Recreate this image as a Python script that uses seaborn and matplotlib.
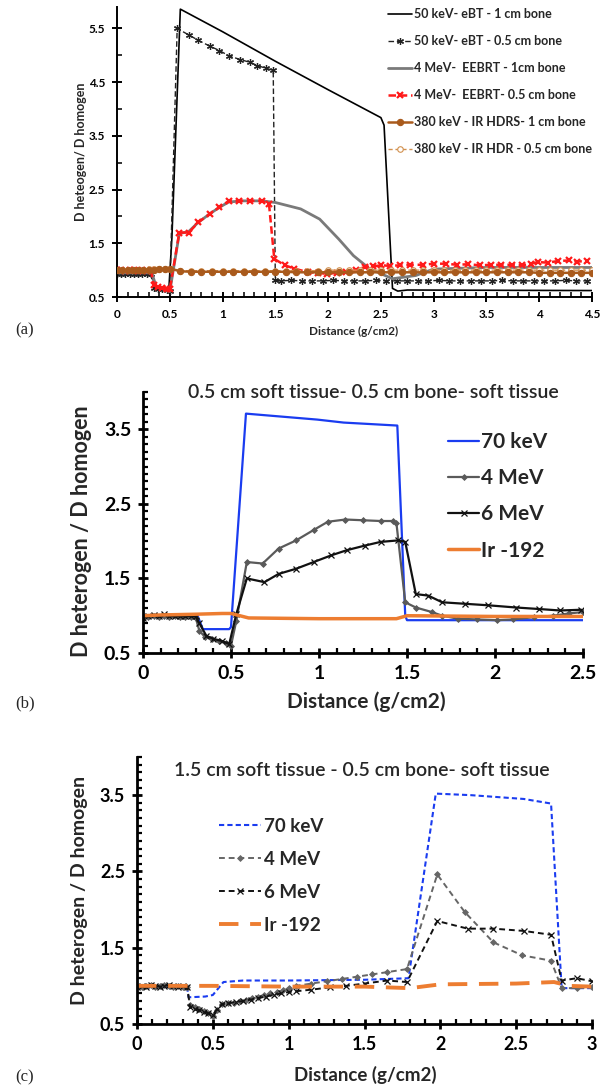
import matplotlib
matplotlib.use("Agg")
import matplotlib.pyplot as plt
import seaborn as sns
from matplotlib.ticker import MultipleLocator, FixedLocator, FuncFormatter

# ---------------- panel (a) data ----------------
a_x_ebt1 = [0, 0.33, 0.36, 0.49, 0.52, 0.6, 1.0, 1.5, 2.0, 2.5, 2.53, 2.61, 2.66, 2.75, 4.5]
a_y_ebt1 = [0.95, 0.95, 0.66, 0.6, 1.6, 5.86, 5.44, 4.89, 4.36, 3.84, 3.7, 0.66, 0.61, 0.63, 0.62]

a_x_ebt05 = [0, 0.04, 0.08, 0.12, 0.16, 0.2, 0.24, 0.28, 0.32, 0.35, 0.39, 0.43, 0.47, 0.5,
             0.57, 0.68, 0.77, 0.88, 0.97, 1.06, 1.17, 1.26, 1.33, 1.41, 1.48,
             1.5, 1.55, 1.65, 1.75, 1.85, 1.95, 2.05, 2.15, 2.25, 2.35, 2.45, 2.55, 2.65, 2.75,
             2.85, 2.95, 3.05, 3.15, 3.25, 3.35, 3.45, 3.55, 3.65, 3.75, 3.85, 3.95, 4.05,
             4.15, 4.25, 4.35, 4.45]
a_y_ebt05 = [0.93, 0.93, 0.92, 0.93, 0.92, 0.93, 0.92, 0.92, 0.92, 0.66, 0.64, 0.65, 0.63, 0.62,
             5.5, 5.38, 5.28, 5.17, 5.09, 4.99, 4.92, 4.87, 4.81, 4.76, 4.72,
             0.81, 0.8, 0.81, 0.8, 0.8, 0.8, 0.81, 0.8, 0.8, 0.8, 0.81, 0.8, 0.8, 0.8,
             0.8, 0.8, 0.81, 0.8, 0.8, 0.8, 0.8, 0.8, 0.81, 0.8, 0.8, 0.8, 0.8,
             0.8, 0.81, 0.8, 0.8]

a_x_eebrt1 = [0, 0.33, 0.37, 0.5, 0.55, 0.59, 0.68, 0.77, 0.88, 0.97, 1.06, 1.2, 1.37, 1.5,
              1.74, 1.92, 2.1, 2.24, 2.39, 2.54, 2.61, 2.83, 3.0, 3.5, 4.0, 4.5]
a_y_eebrt1 = [0.95, 0.95, 0.7, 0.6, 1.2, 1.68, 1.72, 1.89, 2.05, 2.17, 2.27, 2.29, 2.29, 2.26,
              2.14, 1.95, 1.58, 1.27, 1.03, 0.9, 0.84, 0.9, 1.02, 1.05, 1.05, 1.05]

a_x_eebrt05 = [0, 0.04, 0.08, 0.12, 0.16, 0.2, 0.24, 0.28, 0.32, 0.35, 0.39, 0.43, 0.47, 0.5,
               0.59, 0.68, 0.77, 0.88, 0.97, 1.06, 1.16, 1.26, 1.37, 1.44, 1.49, 1.59, 1.68,
               1.81, 1.9, 1.99, 2.08, 2.17, 2.26, 2.35, 2.43, 2.5, 2.59, 2.68, 2.78, 2.9, 3.0,
               3.12, 3.22, 3.33, 3.44, 3.54, 3.64, 3.74, 3.84, 3.92, 3.99, 4.08, 4.18, 4.28,
               4.36, 4.45]
a_y_eebrt05 = [1.0, 1.0, 0.99, 1.0, 1.0, 0.99, 1.0, 0.99, 1.0, 0.72, 0.68, 0.66, 0.65, 0.64,
               1.7, 1.7, 1.89, 2.05, 2.17, 2.29, 2.29, 2.29, 2.29, 2.23, 1.21, 1.09, 1.03,
               0.96, 0.95, 0.93, 0.95, 0.96, 1.0, 1.06, 1.07, 1.09, 1.08, 1.09, 1.1, 1.1, 1.12,
               1.12, 1.1, 1.11, 1.09, 1.1, 1.1, 1.1, 1.09, 1.12, 1.15, 1.14, 1.17, 1.18,
               1.16, 1.17]

a_x_ir = [0, 0.05, 0.1, 0.15, 0.2, 0.25, 0.3, 0.35, 0.4, 0.45, 0.5,
          0.6, 0.7, 0.8, 0.9, 1.0, 1.1, 1.2, 1.3, 1.4, 1.5, 1.6, 1.7, 1.8, 1.9, 2.0,
          2.1, 2.2, 2.3, 2.4, 2.5, 2.6, 2.7, 2.8, 2.9, 3.0, 3.1, 3.2, 3.3, 3.4, 3.5,
          3.6, 3.7, 3.8, 3.9, 4.0, 4.1, 4.2, 4.3, 4.4, 4.5]
a_y_ir1 = [1.0, 1.0, 1.0, 1.0, 1.01, 1.01, 1.01, 1.01, 1.02, 1.02, 1.03,
           0.98, 0.97, 0.97, 0.97, 0.97, 0.97, 0.97, 0.97, 0.97, 0.97, 0.97, 0.96, 0.96, 0.96, 0.96,
           0.96, 0.96, 0.96, 0.96, 0.96, 0.96, 0.96, 0.96, 0.96, 0.96, 0.96, 0.96, 0.96, 0.96, 0.96,
           0.96, 0.96, 0.96, 0.96, 0.95, 0.95, 0.95, 0.95, 0.95, 0.95]
a_y_ir05 = [1.01, 1.0, 1.01, 1.0, 1.01, 1.01, 1.02, 1.02, 1.02, 1.03, 1.03,
            0.99, 0.99, 0.99, 0.99, 0.99, 0.99, 0.99, 0.99, 0.99, 0.99, 0.99, 0.99, 0.99, 0.99, 1.0,
            1.0, 1.0, 1.0, 1.0, 1.0, 1.0, 1.0, 1.0, 1.0, 1.0, 1.0, 1.0, 1.0, 1.0, 1.0,
            1.0, 1.0, 1.0, 1.0, 1.0, 1.0, 1.0, 1.0, 1.0, 1.0]

a_labels = ["50 keV- eBT - 1 cm bone", "50 keV- eBT - 0.5 cm bone", "4 MeV-  EEBRT - 1cm bone",
            "4 MeV-  EEBRT- 0.5 cm bone", "380 keV - IR HDRS- 1 cm bone", "380 keV - IR HDR - 0.5 cm bone"]

# ---------------- panel (b) data ----------------
b_x_70 = [0, 0.31, 0.34, 0.49, 0.5, 0.585, 0.99, 1.14, 1.445, 1.49, 1.5, 2.5]
b_y_70 = [1.0, 1.0, 0.82, 0.82, 0.85, 3.71, 3.63, 3.59, 3.55, 1.0, 0.94, 0.94]

b_x_4 = [0, 0.03, 0.06, 0.09, 0.12, 0.15, 0.18, 0.21, 0.24, 0.27, 0.3, 0.32, 0.35, 0.39, 0.43,
         0.47, 0.5, 0.53, 0.59, 0.68, 0.77, 0.87, 0.97, 1.05, 1.15, 1.25, 1.35, 1.42, 1.44, 1.49,
         1.55, 1.64, 1.7, 1.79, 1.9, 2.01, 2.1, 2.22, 2.33, 2.42, 2.5]
b_y_4 = [0.97, 0.98, 0.99, 0.98, 0.99, 0.98, 0.99, 0.98, 0.98, 0.98, 0.97, 0.8, 0.72, 0.69, 0.66,
         0.63, 0.6, 0.93, 1.72, 1.7, 1.9, 2.01, 2.15, 2.26, 2.29, 2.28, 2.27, 2.27, 2.24, 1.18,
         1.11, 1.05, 1.0, 0.96, 0.95, 0.94, 0.95, 0.98, 1.0, 1.03, 1.05]

b_x_6 = [0, 0.03, 0.06, 0.09, 0.12, 0.15, 0.18, 0.21, 0.24, 0.27, 0.3, 0.32, 0.36, 0.4, 0.45,
         0.49, 0.53, 0.59, 0.69, 0.77, 0.87, 0.97, 1.07, 1.16, 1.26, 1.35, 1.45, 1.49, 1.55, 1.62,
         1.7, 1.83, 1.96, 2.12, 2.25, 2.37, 2.49]
b_y_6 = [0.97, 1.0, 1.01, 0.99, 1.02, 1.0, 0.99, 1.0, 0.99, 1.0, 0.99, 0.9, 0.73, 0.69, 0.66,
         0.62, 1.02, 1.5, 1.45, 1.56, 1.63, 1.72, 1.81, 1.88, 1.94, 1.99, 2.01, 1.99, 1.29, 1.27,
         1.18, 1.16, 1.14, 1.11, 1.09, 1.07, 1.08]

b_x_ir = [0, 0.1, 0.3, 0.45, 0.5, 0.55, 0.6, 1.0, 1.4, 1.44, 1.5, 2.0, 2.5]
b_y_ir = [1.0, 1.01, 1.02, 1.03, 1.03, 1.0, 0.97, 0.96, 0.96, 0.96, 1.0, 0.99, 0.99]

# ---------------- panel (c) data ----------------
c_x_70 = [0, 0.33, 0.34, 0.45, 0.5, 0.57, 0.7, 1.0, 1.5, 1.79, 1.97, 2.2, 2.55, 2.73, 2.8, 3.0]
c_y_70 = [0.98, 0.99, 0.85, 0.86, 0.88, 1.05, 1.07, 1.07, 1.08, 1.1, 3.52, 3.5, 3.45, 3.39, 0.97, 0.97]

c_x_4 = [0, 0.03, 0.06, 0.09, 0.12, 0.15, 0.18, 0.21, 0.24, 0.27, 0.3, 0.33, 0.35, 0.38, 0.41,
         0.44, 0.47, 0.5, 0.53, 0.56, 0.6, 0.64, 0.68, 0.72, 0.76, 0.8, 0.84, 0.88, 0.92, 0.96,
         1.0, 1.05, 1.15, 1.25, 1.35, 1.45, 1.55, 1.65, 1.78, 1.98, 2.16, 2.35, 2.54, 2.73, 2.8,
         2.9, 3.0]
c_y_4 = [0.98, 0.99, 1.0, 1.01, 0.99, 1.0, 1.01, 1.0, 0.99, 1.0, 0.99, 0.98, 0.75, 0.72, 0.7,
         0.67, 0.64, 0.6, 0.68, 0.76, 0.77, 0.78, 0.8, 0.82, 0.84, 0.86, 0.88, 0.9, 0.92, 0.94,
         0.97, 1.0, 1.03, 1.06, 1.09, 1.12, 1.15, 1.18, 1.22, 2.46, 1.97, 1.57, 1.4, 1.33, 0.97,
         0.97, 0.98]

c_x_6 = [0, 0.03, 0.06, 0.09, 0.12, 0.15, 0.18, 0.21, 0.24, 0.27, 0.3, 0.33, 0.35, 0.38, 0.41,
         0.44, 0.47, 0.5, 0.53, 0.56, 0.6, 0.65, 0.7, 0.75, 0.8, 0.85, 0.9, 0.95, 1.0, 1.05,
         1.15, 1.27, 1.38, 1.5, 1.65, 1.78, 1.98, 2.18, 2.35, 2.55, 2.73, 2.8, 2.9, 3.0]
c_y_6 = [0.99, 1.0, 0.99, 1.01, 1.0, 0.99, 1.0, 1.01, 1.0, 0.99, 1.0, 0.99, 0.72, 0.7, 0.68,
         0.66, 0.64, 0.62, 0.7, 0.76, 0.77, 0.79, 0.8, 0.82, 0.84, 0.86, 0.88, 0.9, 0.92, 0.93,
         0.95, 0.98, 1.0, 1.03, 1.07, 1.05, 1.85, 1.75, 1.75, 1.72, 1.67, 1.07, 1.1, 1.06]

c_x_ir = [0, 0.5, 1.0, 1.5, 1.8, 2.0, 2.5, 2.75, 2.85, 3.0]
c_y_ir = [1.0, 1.0, 0.99, 0.99, 0.97, 1.02, 1.03, 1.05, 1.0, 0.99]

bc_labels = ["70 keV", "4 MeV", "6 MeV", "Ir -192"]

sns.set_theme(style="ticks")
plt.rcParams['font.family'] = ['Lato', 'DejaVu Sans']

W, H = 604, 1088
fig = plt.figure(figsize=(W / 100, H / 100), dpi=100)


def box(l, r, b, t):
    return [l / W, 1 - b / H, (r - l) / W, (b - t) / H]


def draw(ax, x, y, color, label, **kw):
    kw.setdefault("mec", color)
    sns.lineplot(x=x, y=y, ax=ax, color=color, label=label, estimator=None,
                 sort=False, **kw)


def style_axes(ax, xmax, ymax, ymajor, yminor, fs, lw):
    ax.set_xlim(0, xmax)
    ax.set_ylim(0.5, ymax)
    ax.xaxis.set_major_locator(MultipleLocator(0.5))
    ax.xaxis.set_minor_locator(MultipleLocator(0.1))
    ax.yaxis.set_major_locator(FixedLocator(ymajor))
    ax.yaxis.set_minor_locator(FixedLocator(yminor))
    ax.xaxis.set_major_formatter(FuncFormatter(lambda v, p: "%g" % v))
    ax.yaxis.set_major_formatter(FuncFormatter(lambda v, p: "%g" % v))
    for s in ["top", "right"]:
        ax.spines[s].set_visible(False)
    for s in ["left", "bottom"]:
        ax.spines[s].set_linewidth(lw)
        ax.spines[s].set_color("black")
    ax.tick_params(which="major", direction="inout", length=7, width=lw, colors="black",
                   labelsize=fs, pad=5)
    ax.tick_params(which="minor", direction="in", length=3.5, width=lw * 0.8, colors="black")
    for t in ax.get_xticklabels() + ax.get_yticklabels():
        t.set_fontweight("bold")
    ax.set_xlabel("")
    ax.set_ylabel("")
    ax.patch.set_alpha(0)


# ---------------- (a) ----------------
ax_a = fig.add_axes(box(117, 592, 297, 7))
draw(ax_a, a_x_ebt1, a_y_ebt1, "black", a_labels[0], linewidth=1.2)
draw(ax_a, a_x_ebt05, a_y_ebt05, "#222222", a_labels[1], linewidth=1.0, linestyle=(0, (4, 2)),
     marker=(6, 2, 0), markersize=5, mew=0.9)
draw(ax_a, a_x_eebrt1, a_y_eebrt1, "#7a7a7a", a_labels[2], linewidth=2.0)
draw(ax_a, a_x_eebrt05, a_y_eebrt05, "#ff1a1a", a_labels[3], linewidth=1.8, linestyle=(0, (3, 1.5)),
     marker="x", markersize=5, mew=1.6)
draw(ax_a, a_x_ir, a_y_ir1, "#a95a1c", a_labels[4], linewidth=1.8, marker="o", markersize=4.5,
     mew=0.8, zorder=6)
draw(ax_a, a_x_ir, a_y_ir05, "#d2914f", a_labels[5], linewidth=1.0, linestyle=(0, (3, 2)),
     marker="o", markersize=4, mew=0.8, mfc="white", zorder=5)
style_axes(ax_a, 4.5, 5.9, [0.5, 1.5, 2.5, 3.5, 4.5, 5.5], [1, 2, 3, 4, 5], 8.5, 1.4)
ha, la = ax_a.get_legend_handles_labels()
ax_a.get_legend().remove()
fig.legend(ha, la, loc="upper left", bbox_to_anchor=(388 / W, 1 - 8 / H), frameon=False,
           prop={"size": 9, "weight": "bold"}, labelspacing=1.2, handlelength=1.9,
           handletextpad=0.2, borderpad=0, borderaxespad=0)
fig.text(354 / W, 1 - 331 / H, "Distance (g/cm2)", ha="center", va="center", fontsize=8.5,
         fontweight="bold")
fig.text(81 / W, 1 - 152 / H, "D heteogen/ D homogen", ha="center", va="center", rotation=90,
         fontsize=9, fontweight="bold")
fig.text(25 / W, 1 - 330 / H, "(a)", ha="center", va="center", fontsize=12, family="Liberation Serif")

# ---------------- (b) ----------------
ax_b = fig.add_axes(box(143, 583, 653, 392))
draw(ax_b, b_x_70, b_y_70, "#1a3cf0", bc_labels[0], linewidth=1.6)
draw(ax_b, b_x_4, b_y_4, "#5a5a5a", bc_labels[1], linewidth=1.6, marker="D", markersize=3, mew=0.6)
draw(ax_b, b_x_6, b_y_6, "#111111", bc_labels[2], linewidth=1.6, marker="x", markersize=4.5, mew=0.9)
draw(ax_b, b_x_ir, b_y_ir, "#ed7d31", bc_labels[3], linewidth=2.5)
style_axes(ax_b, 2.5, 4.0, [0.5, 1.5, 2.5, 3.5], [0.5 + 0.1 * k for k in range(36)], 14, 2.0)
hb, lb = ax_b.get_legend_handles_labels()
ax_b.legend(hb, lb, loc="upper left", bbox_to_anchor=((448 - 143) / 440, (653 - 432) / 261),
            frameon=False, prop={"size": 15, "weight": "bold"}, labelspacing=0.78,
            handlelength=1.5, handletextpad=0.1, borderpad=0, borderaxespad=0)
ax_b.text((373 - 143) / 440, 1.0, "0.5 cm soft tissue- 0.5 cm bone- soft tissue", transform=ax_b.transAxes,
          ha="center", va="center", fontsize=14, fontweight="semibold")
fig.text(366 / W, 1 - 702 / H, "Distance (g/cm2)", ha="center", va="center", fontsize=15,
         fontweight="bold")
fig.text(81 / W, 1 - 531 / H, "D heterogen / D homogen", ha="center", va="center", rotation=90,
         fontsize=15.5, fontweight="bold")
fig.text(25 / W, 1 - 703 / H, "(b)", ha="center", va="center", fontsize=12, family="Liberation Serif")

# ---------------- (c) ----------------
ax_c = fig.add_axes(box(137, 592, 1024, 757))
draw(ax_c, c_x_70, c_y_70, "#1a3cf0", bc_labels[0], linewidth=1.5, linestyle=(0, (2.5, 1.5)))
draw(ax_c, c_x_4, c_y_4, "#666666", bc_labels[1], linewidth=1.4, linestyle=(0, (3, 2)),
     marker="D", markersize=3, mew=0.6)
draw(ax_c, c_x_6, c_y_6, "#111111", bc_labels[2], linewidth=1.4, linestyle=(0, (3, 2)),
     marker="x", markersize=4.5, mew=0.9)
draw(ax_c, c_x_ir, c_y_ir, "#ed7d31", bc_labels[3], linewidth=2.8, linestyle=(0, (5, 3)))
style_axes(ax_c, 3.0, 4.0, [0.5, 1.5, 2.5, 3.5], [0.5 + 0.1 * k for k in range(36)], 13, 2.0)
hc, lc = ax_c.get_legend_handles_labels()
ax_c.legend(hc, lc, loc="upper left", bbox_to_anchor=((219 - 137) / 455, (1024 - 818) / 267),
            frameon=False, prop={"size": 13.5, "weight": "bold"}, labelspacing=0.85,
            handlelength=2.25, handletextpad=0.15, borderpad=0, borderaxespad=0)
ax_c.text((362 - 137) / 455, (1024 - 770) / 267, "1.5 cm soft tissue - 0.5 cm bone- soft tissue",
          transform=ax_c.transAxes, ha="center", va="center", fontsize=14, fontweight="semibold")
fig.text(365 / W, 1 - 1075 / H, "Distance (g/cm2)", ha="center", va="center", fontsize=13.5,
         fontweight="bold")
fig.text(79 / W, 1 - 890 / H, "D heterogen / D homogen", ha="center", va="center", rotation=90,
         fontsize=14, fontweight="bold")
fig.text(25 / W, 1 - 1077 / H, "(c)", ha="center", va="center", fontsize=12, family="Liberation Serif")

fig.savefig("out.png", dpi=100, facecolor="white")
